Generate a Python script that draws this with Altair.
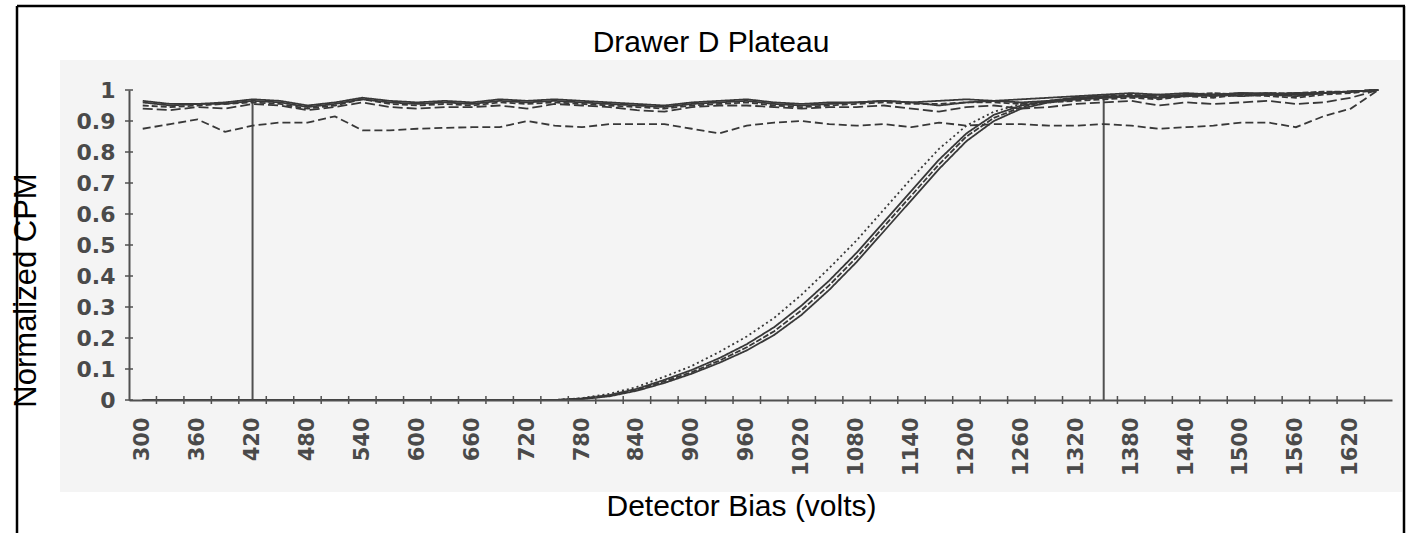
import altair as alt
import pandas as pd

# Bias steps (volts)
volts = [300, 330, 360, 390, 420, 450, 480, 510, 540, 570, 600, 630, 660, 690, 720, 750,
         780, 810, 840, 870, 900, 930, 960, 990, 1020, 1050, 1080, 1110, 1140, 1170, 1200,
         1230, 1260, 1290, 1320, 1350, 1380, 1410, 1440, 1470, 1500, 1530, 1560, 1590, 1620, 1650]

# Detectors already on plateau over the whole sweep
det_a = [.965, .955, .955, .96, .97, .965, .95, .96, .975, .965, .96, .965, .96, .97, .965, .97,
         .965, .96, .955, .95, .96, .965, .97, .96, .955, .96, .96, .965, .96, .965, .97,
         .965, .97, .975, .98, .985, .99, .985, .99, .985, .99, .99, .985, .99, .995, 1.0]
det_b = [.95, .945, .95, .955, .96, .955, .94, .95, .97, .955, .95, .955, .95, .96, .955, .96,
         .955, .95, .945, .94, .95, .955, .96, .95, .945, .95, .955, .96, .955, .955, .96,
         .96, .955, .96, .965, .97, .975, .97, .98, .975, .985, .98, .975, .985, .99, 1.0]
det_c = [.94, .935, .945, .94, .955, .95, .935, .945, .96, .945, .94, .945, .945, .95, .94, .955,
         .95, .945, .935, .93, .945, .95, .95, .945, .94, .945, .945, .95, .94, .93, .945,
         .95, .94, .945, .955, .96, .965, .95, .96, .955, .96, .965, .955, .96, .975, 1.0]
det_d = [.96, .95, .955, .955, .965, .96, .945, .955, .97, .96, .955, .96, .955, .965, .96, .965,
         .96, .955, .95, .945, .955, .96, .965, .955, .95, .955, .96, .965, .96, .95, .96,
         .965, .96, .965, .97, .975, .98, .975, .985, .98, .99, .985, .98, .99, .995, 1.0]
det_e = [.875, .89, .905, .865, .885, .895, .895, .915, .87, .87, .875, .878, .88, .88, .9, .885,
         .88, .89, .89, .89, .875, .86, .885, .895, .9, .89, .885, .89, .88, .895, .885,
         .89, .89, .885, .885, .89, .885, .875, .88, .885, .895, .895, .88, .915, .94, 1.0]

# Detectors turning on during the sweep
det_f = [0] * 16 + [.003, .012, .03, .055, .085, .12, .16, .21, .275, .355, .445, .545, .645, .745,
                    .835, .9, .94, .96, .97, .975, .98, .975, .98, .985, .98, .985, .99, .99, .995, 1.0]
det_g = [0] * 16 + [.004, .014, .033, .06, .09, .127, .17, .222, .29, .37, .46, .56, .66, .76,
                    .85, .91, .945, .965, .975, .98, .985, .98, .985, .99, .985, .99, .99, .995, .995, 1.0]
det_h = [0] * 16 + [.005, .016, .036, .065, .097, .135, .18, .235, .305, .385, .475, .575, .675, .775,
                    .86, .92, .95, .965, .975, .98, .98, .985, .98, .985, .99, .985, .99, .99, .995, 1.0]
det_i = [0] * 16 + [.006, .02, .042, .075, .11, .155, .205, .265, .34, .425, .515, .615, .715, .81,
                    .885, .93, .955, .96, .97, .975, .98, .975, .985, .98, .985, .99, .985, .99, .995, 1.0]

series_names = ["A", "B", "C", "D", "E", "F", "G", "H", "I"]
series_vals = [det_a, det_b, det_c, det_d, det_e, det_f, det_g, det_h, det_i]
series_dash = [[1, 0], [6, 3], [10, 4], [1, 0], [8, 4], [1, 0], [6, 2], [1, 0], [2, 3]]

# Plateau window markers
marker_volts = [420, 1350]
marker_top = [0.97, 0.97]

# Axis tick positions
x_label_values = [300, 360, 420, 480, 540, 600, 660, 720, 780, 840, 900, 960, 1020, 1080,
                  1140, 1200, 1260, 1320, 1380, 1440, 1500, 1560, 1620]
x_tick_values = [315 + 30 * i for i in range(45)]
y_tick_values = [0, 0.1, 0.2, 0.3, 0.4, 0.5, 0.6, 0.7, 0.8, 0.9, 1]

chart_title = "Drawer D Plateau"

rows = []
for name, vals in zip(series_names, series_vals):
    for v, c in zip(volts, vals):
        rows.append({"volts": v, "cpm": c, "series": name})
df = pd.DataFrame(rows)

markers = pd.DataFrame({"volts": marker_volts, "cpm": [0, 0], "top": marker_top})
xticks = pd.DataFrame({"volts": x_tick_values})
yticks = pd.DataFrame({"cpm": y_tick_values})
one = pd.DataFrame({"label": [chart_title]})

W, H = 1263, 310
xs = alt.Scale(domain=[285, 1665], nice=False, zero=False)
ys = alt.Scale(domain=[0, 1], nice=False, zero=False)
INK = "#383838"
AXIS = "#505050"
LABEL_FONT = "DejaVu Sans"

x_axis = alt.Axis(
    values=x_label_values,
    format="d",
    labelAngle=-90,
    labelFont=LABEL_FONT,
    labelFontWeight="bold",
    labelFontSize=21,
    labelColor="#4a4a4a",
    labelPadding=17,
    labelOverlap=False,
    labelFlush=False,
    ticks=False,
    tickSize=0,
    grid=False,
    domainColor=AXIS,
    domainWidth=2,
    zindex=1,
    title="Detector Bias (volts)",
    titleFont="Liberation Sans",
    titleFontSize=30,
    titleFontWeight="normal",
    titleColor="black",
    titleX=612,
    titleY=115,
    titleAlign="center",
    titleBaseline="alphabetic",
)

y_axis = alt.Axis(
    values=y_tick_values,
    format=".1~f",
    labelFont=LABEL_FONT,
    labelFontWeight="bold",
    labelFontSize=22,
    labelColor="#4a4a4a",
    labelPadding=14,
    labelOverlap=False,
    labelFlush=False,
    ticks=False,
    tickSize=0,
    grid=False,
    domainColor=AXIS,
    domainWidth=2,
    zindex=1,
    title="Normalized CPM",
    titleFont="Liberation Sans",
    titleFontSize=31,
    titleFontWeight="normal",
    titleColor="black",
    titleAngle=270,
    titleX=-94,
    titleY=200,
    titleAlign="center",
    titleBaseline="alphabetic",
)

panel = alt.Chart(one).mark_rect(color="#f4f4f4").encode(
    x=alt.value(-69), x2=alt.value(1273), y=alt.value(-30), y2=alt.value(402)
)

frame_left = alt.Chart(one).mark_rule(color="black", strokeWidth=2.5).encode(
    x=alt.value(-112), y=alt.value(-84), y2=alt.value(443)
)
frame_right = alt.Chart(one).mark_rule(color="black", strokeWidth=2.5).encode(
    x=alt.value(1275), y=alt.value(-84), y2=alt.value(443)
)
frame_top = alt.Chart(one).mark_rule(color="black", strokeWidth=2.5).encode(
    x=alt.value(-112), x2=alt.value(1276), y=alt.value(-84)
)

title_text = alt.Chart(one).mark_text(
    font="Liberation Sans", fontSize=30, color="black", align="center", baseline="alphabetic"
).encode(text="label:N", x=alt.value(582), y=alt.value(-38))

lines = alt.Chart(df).mark_line(strokeWidth=1.8, color=INK).encode(
    x=alt.X("volts:Q", scale=xs, axis=x_axis),
    y=alt.Y("cpm:Q", scale=ys, axis=y_axis),
    detail="series:N",
    strokeDash=alt.StrokeDash(
        "series:N",
        scale=alt.Scale(domain=series_names, range=series_dash),
        legend=None,
    ),
)

marker_rules = alt.Chart(markers).mark_rule(color=AXIS, strokeWidth=2).encode(
    x=alt.X("volts:Q", scale=xs, axis=x_axis),
    y=alt.Y("cpm:Q", scale=ys, axis=y_axis),
    y2="top:Q",
)

x_tick_marks = alt.Chart(xticks).mark_rule(color=AXIS, strokeWidth=1.5).encode(
    x=alt.X("volts:Q", scale=xs, axis=x_axis),
    y=alt.value(H - 4),
    y2=alt.value(H + 4),
)

y_tick_marks = alt.Chart(yticks).mark_rule(color=AXIS, strokeWidth=1.5).encode(
    y=alt.Y("cpm:Q", scale=ys, axis=y_axis),
    x=alt.value(-4),
    x2=alt.value(4),
)

chart = alt.layer(
    panel, frame_left, frame_right, frame_top, title_text,
    marker_rules, lines, x_tick_marks, y_tick_marks
).properties(
    width=W,
    height=H,
    autosize=alt.AutoSizeParams(type="none"),
    padding={"left": 129, "top": 90, "right": 18, "bottom": 133},
).configure_view(stroke=None).configure(background="white")

chart.save("out.html", embed_options={"renderer": "svg", "actions": False})
